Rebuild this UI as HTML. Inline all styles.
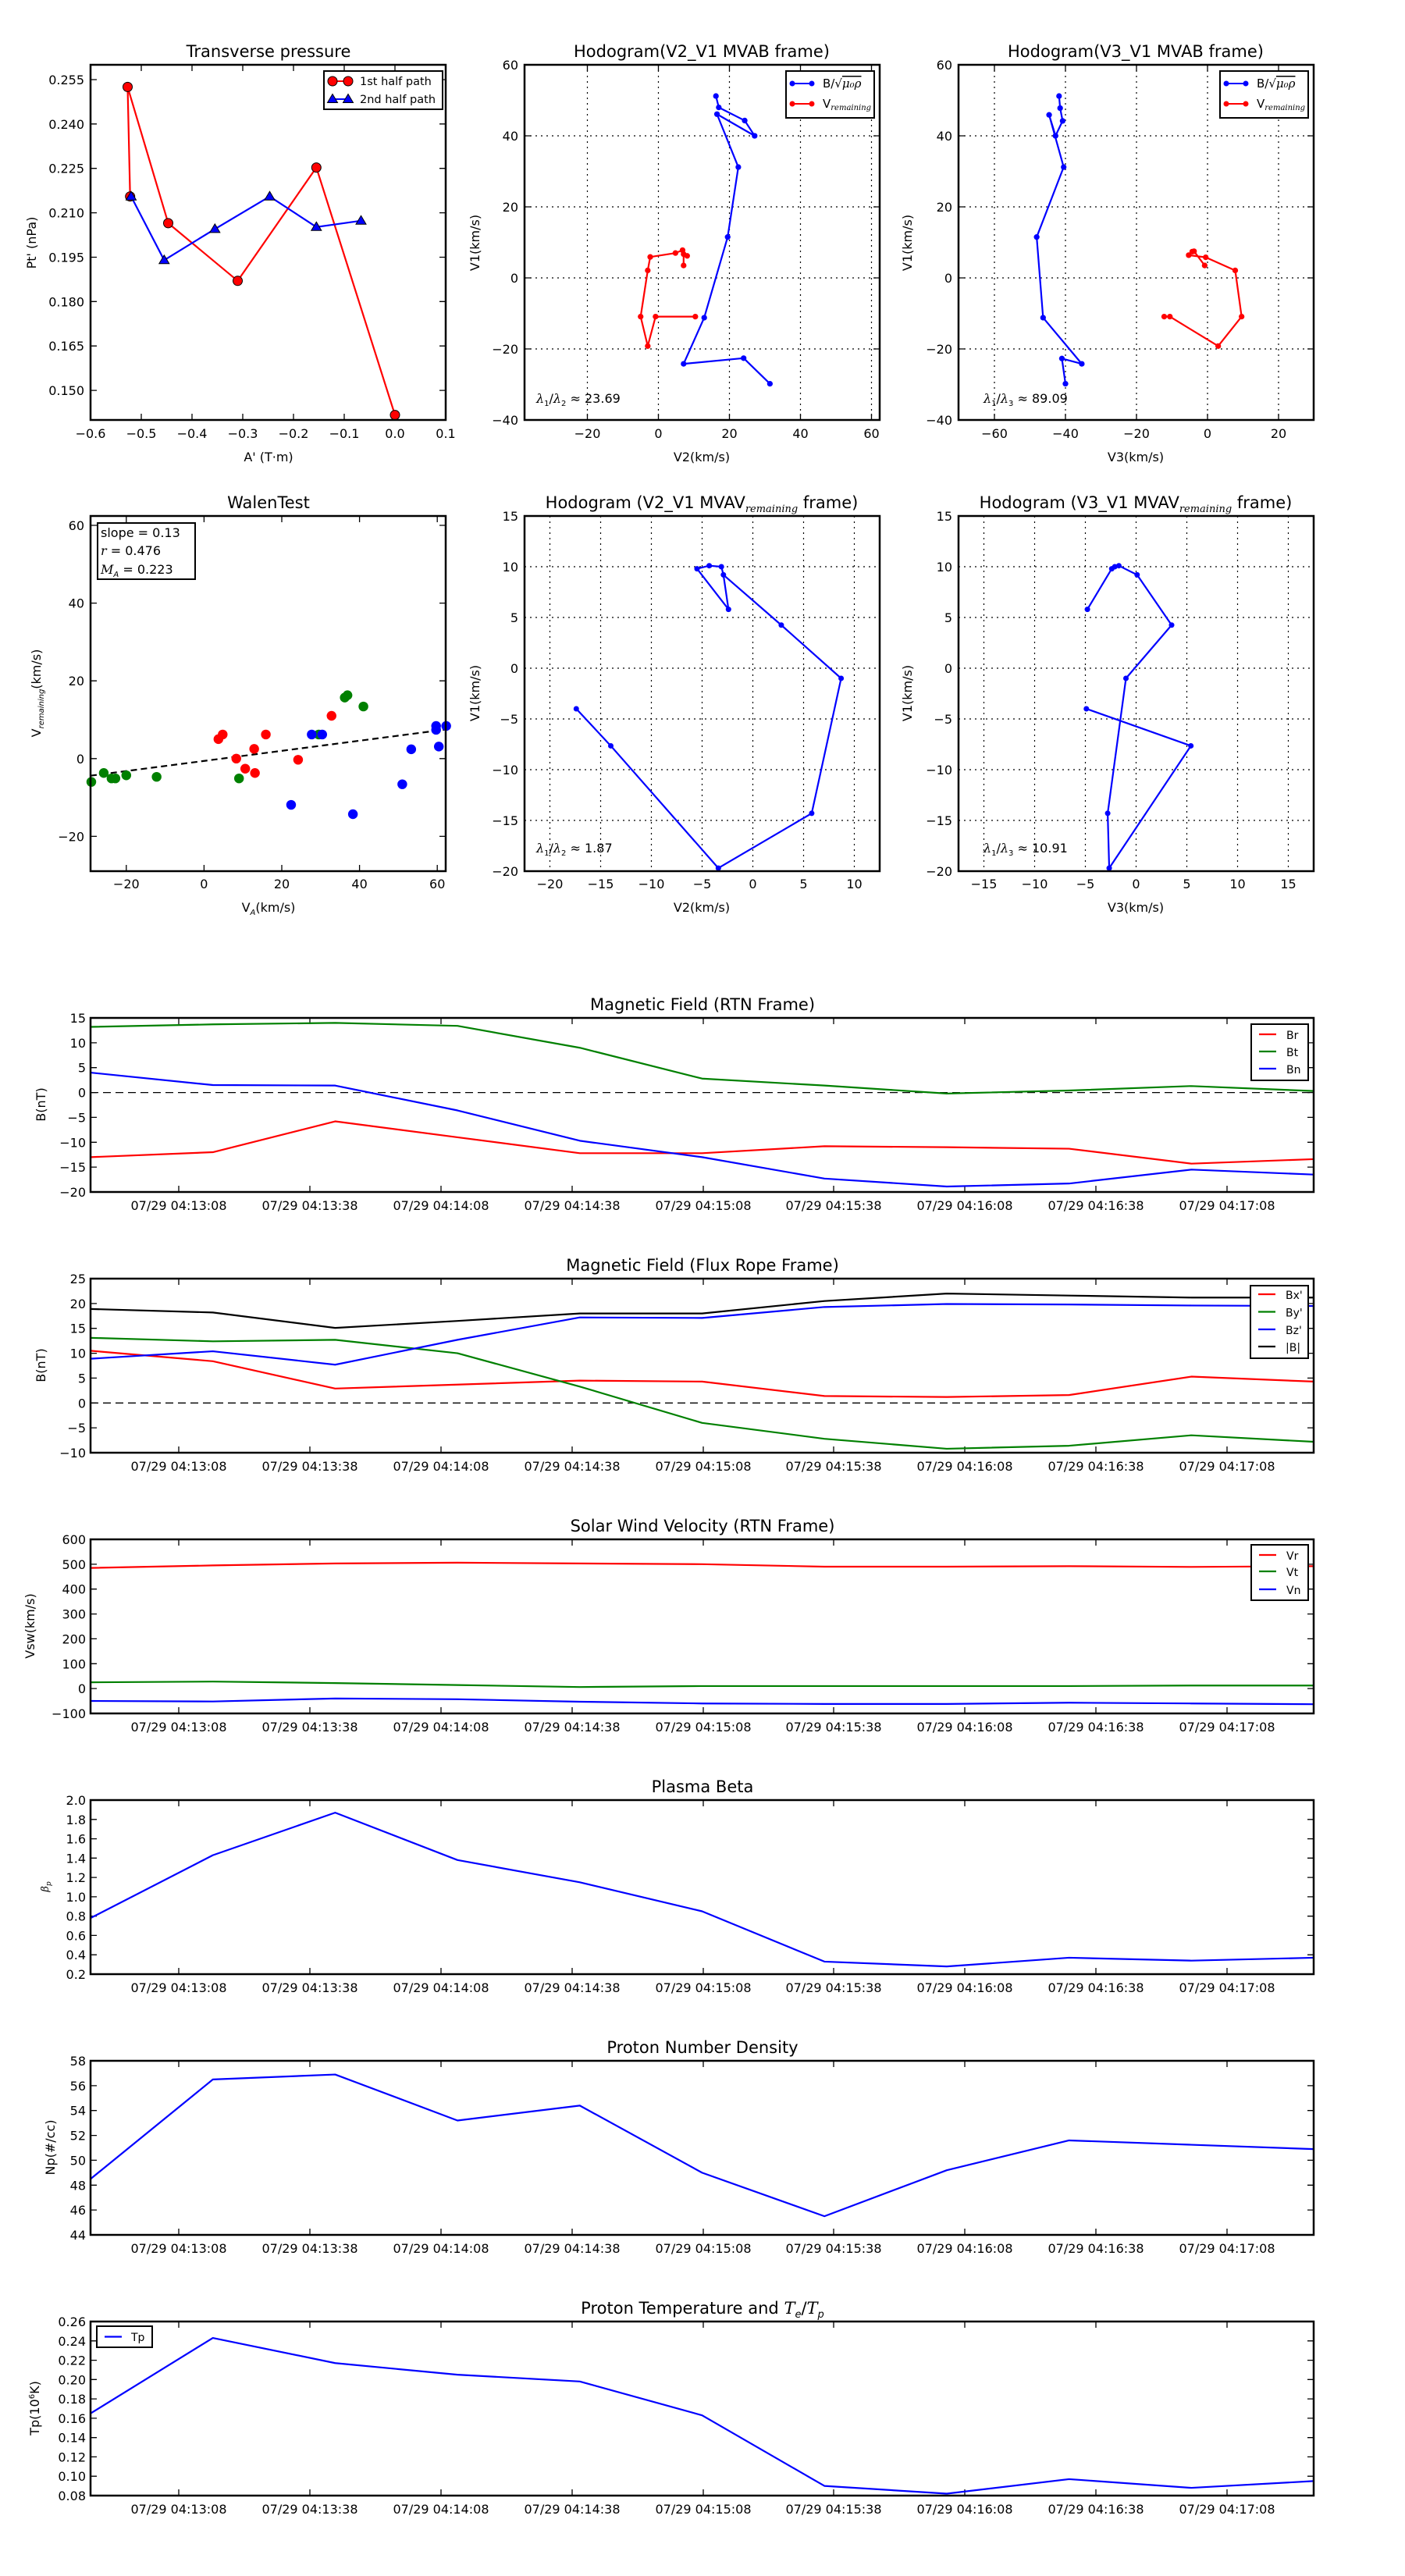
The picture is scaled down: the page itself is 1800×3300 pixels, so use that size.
<!DOCTYPE html>
<html><head><meta charset="utf-8"><style>
html,body{margin:0;padding:0;background:#fff}
svg{display:block}
text{font-family:"DejaVu Sans","Liberation Sans",sans-serif;fill:#000}
.t{font-size:16px}
.ti{font-size:21px;text-anchor:middle}
.yl{text-anchor:end}
.xl{text-anchor:middle}
.ln{fill:none;stroke-width:2.2;vector-effect:non-scaling-stroke;stroke-linejoin:round}
.ax{fill:none;stroke:#000;stroke-width:2.5}
.tk{stroke:#000;stroke-width:1.3}
.gr{stroke:#000;stroke-width:1.2;stroke-dasharray:2,5}
</style></head><body>
<svg width="1800" height="3300" viewBox="0 0 1800 3300" xmlns="http://www.w3.org/2000/svg">
<rect width="1800" height="3300" fill="#fff"/>

<!-- ============ Transverse pressure ============ -->
<text class="ti" x="344" y="73">Transverse pressure</text>
<g class="tk">
<path d="M181,538v-8M246,538v-8M311,538v-8M376,538v-8M441,538v-8M506,538v-8M181,83v8M246,83v8M311,83v8M376,83v8M441,83v8M506,83v8"/>
<path d="M116,102h8M116,158.8h8M116,215.7h8M116,272.6h8M116,329.5h8M116,386.3h8M116,443.2h8M116,500.1h8M571,102h-8M571,158.8h-8M571,215.7h-8M571,272.6h-8M571,329.5h-8M571,386.3h-8M571,443.2h-8M571,500.1h-8"/>
</g>
<polyline fill="none" stroke="#f00" stroke-width="2.2" points="166.7,251.7 163.5,111.4 215.5,285.9 304.5,359.8 405.3,214.6 506,531.6"/>
<polyline fill="none" stroke="#00f" stroke-width="2.2" points="168,251.7 210.3,333.3 275.3,293.4 345.5,251.7 405.3,290.8 462.5,282.8"/>
<g fill="#f00" stroke="#000" stroke-width="1">
<circle cx="166.7" cy="251.7" r="6"/><circle cx="163.5" cy="111.4" r="6"/><circle cx="215.5" cy="285.9" r="6"/><circle cx="304.5" cy="359.8" r="6"/><circle cx="405.3" cy="214.6" r="6"/><circle cx="506" cy="531.6" r="6"/>
</g>
<g fill="#00f" stroke="#000" stroke-width="1">
<path d="M168,245.2l6.5,11h-13z"/><path d="M210.3,326.8l6.5,11h-13z"/><path d="M275.3,286.9l6.5,11h-13z"/><path d="M345.5,245.2l6.5,11h-13z"/><path d="M405.3,284.3l6.5,11h-13z"/><path d="M462.5,276.3l6.5,11h-13z"/>
</g>
<rect x="116" y="83" width="455" height="455" class="ax"/>
<rect x="415" y="91" width="152" height="49" fill="#fff" stroke="#000" stroke-width="2"/>
<line x1="426" y1="104" x2="446" y2="104" stroke="#f00" stroke-width="2"/>
<circle cx="426" cy="104" r="6" fill="#f00" stroke="#000"/><circle cx="446" cy="104" r="6" fill="#f00" stroke="#000"/>
<text x="461" y="109" style="font-size:14.5px">1st half path</text>
<line x1="426" y1="127" x2="446" y2="127" stroke="#00f" stroke-width="2"/>
<path d="M426,120.5l6.5,11h-13z M446,120.5l6.5,11h-13z" fill="#00f" stroke="#000"/>
<text x="461" y="132" style="font-size:14.5px">2nd half path</text>
<g class="t xl">
<text x="116" y="561">−0.6</text><text x="181" y="561">−0.5</text><text x="246" y="561">−0.4</text><text x="311" y="561">−0.3</text><text x="376" y="561">−0.2</text><text x="441" y="561">−0.1</text><text x="506" y="561">0.0</text><text x="571" y="561">0.1</text>
</g>
<g class="t yl">
<text x="108" y="108">0.255</text><text x="108" y="164.8">0.240</text><text x="108" y="221.7">0.225</text><text x="108" y="278.6">0.210</text><text x="108" y="335.5">0.195</text><text x="108" y="392.3">0.180</text><text x="108" y="449.2">0.165</text><text x="108" y="506.1">0.150</text>
</g>
<text class="t xl" x="344" y="591">A' (T·m)</text>
<text class="t xl" transform="translate(46,311) rotate(-90)">Pt' (nPa)</text>

<!-- ============ Hodogram V2_V1 MVAB ============ -->
<text class="ti" x="899" y="73">Hodogram(V2_V1 MVAB frame)</text>
<g class="gr">
<path d="M752.5,83V538M843.5,83V538M934.5,83V538M1025.5,83V538M1116.5,83V538M672,174H1127M672,265H1127M672,356H1127M672,447H1127"/>
</g>
<g class="tk"><path d="M752.5,538v-8M843.5,538v-8M934.5,538v-8M1025.5,538v-8M1116.5,538v-8M752.5,83v8M843.5,83v8M934.5,83v8M1025.5,83v8M1116.5,83v8M672,174h8M672,265h8M672,356h8M672,447h8M1127,174h-8M1127,265h-8M1127,356h-8M1127,447h-8"/></g>
<g transform="translate(843.5,356) scale(4.55,-4.55)">
<polyline class="ln" stroke="#00f" points="16.2,51.2 17,48 24.3,44.3 27.1,40 16.5,46.1 22.5,31.2 19.5,11.5 12.9,-11.2 7.1,-24.2 24,-22.6 31.4,-29.8"/>
<g fill="#00f"><circle cx="16.2" cy="51.2" r="0.8"/><circle cx="17" cy="48" r="0.8"/><circle cx="24.3" cy="44.3" r="0.8"/><circle cx="27.1" cy="40" r="0.8"/><circle cx="16.5" cy="46.1" r="0.8"/><circle cx="22.5" cy="31.2" r="0.8"/><circle cx="19.5" cy="11.5" r="0.8"/><circle cx="12.9" cy="-11.2" r="0.8"/><circle cx="7.1" cy="-24.2" r="0.8"/><circle cx="24" cy="-22.6" r="0.8"/><circle cx="31.4" cy="-29.8" r="0.8"/></g>
<polyline class="ln" stroke="#f00" points="10.4,-10.9 -0.8,-10.9 -3,-19.2 -5,-10.9 -3,2.1 -2.3,5.9 4.8,7 6.8,7.8 8.1,6.2 7.1,6.7 7.1,3.5"/>
<g fill="#f00"><circle cx="10.4" cy="-10.9" r="0.8"/><circle cx="-0.8" cy="-10.9" r="0.8"/><circle cx="-3" cy="-19.2" r="0.8"/><circle cx="-5" cy="-10.9" r="0.8"/><circle cx="-3" cy="2.1" r="0.8"/><circle cx="-2.3" cy="5.9" r="0.8"/><circle cx="4.8" cy="7" r="0.8"/><circle cx="6.8" cy="7.8" r="0.8"/><circle cx="8.1" cy="6.2" r="0.8"/><circle cx="7.1" cy="6.7" r="0.8"/><circle cx="7.1" cy="3.5" r="0.8"/></g>
</g>
<rect x="672" y="83" width="455" height="455" class="ax"/>
<rect x="1007" y="91" width="113" height="60" fill="#fff" stroke="#000" stroke-width="2"/>
<line x1="1015" y1="107" x2="1040" y2="107" stroke="#00f" stroke-width="2"/><circle cx="1015" cy="107" r="3.5" fill="#00f"/><circle cx="1040" cy="107" r="3.5" fill="#00f"/>
<text x="1054" y="112" style="font-size:15px">B/√<tspan font-style="italic" font-family="DejaVu Serif" text-decoration="overline">μ₀ρ</tspan></text>
<line x1="1015" y1="133" x2="1040" y2="133" stroke="#f00" stroke-width="2"/><circle cx="1015" cy="133" r="3.5" fill="#f00"/><circle cx="1040" cy="133" r="3.5" fill="#f00"/>
<text x="1054" y="138" style="font-size:15px">V<tspan font-style="italic" font-family="DejaVu Serif" style="font-size:10px" dy="3">remaining</tspan></text>
<text x="687" y="516" class="t"><tspan font-style="italic" font-family="DejaVu Serif">λ</tspan><tspan style="font-size:10px" dy="4">1</tspan><tspan dy="-4">/</tspan><tspan font-style="italic" font-family="DejaVu Serif">λ</tspan><tspan style="font-size:10px" dy="4">2</tspan><tspan dy="-4"> ≈ 23.69</tspan></text>
<g class="t xl"><text x="752.5" y="561">−20</text><text x="843.5" y="561">0</text><text x="934.5" y="561">20</text><text x="1025.5" y="561">40</text><text x="1116.5" y="561">60</text></g>
<g class="t yl"><text x="664" y="89">60</text><text x="664" y="180">40</text><text x="664" y="271">20</text><text x="664" y="362">0</text><text x="664" y="453">−20</text><text x="664" y="544">−40</text></g>
<text class="t xl" x="899" y="591">V2(km/s)</text>
<text class="t xl" transform="translate(614,311) rotate(-90)">V1(km/s)</text>

<!-- ============ Hodogram V3_V1 MVAB ============ -->
<text class="ti" x="1455" y="73">Hodogram(V3_V1 MVAB frame)</text>
<g class="gr">
<path d="M1274,83V538M1365,83V538M1456,83V538M1547,83V538M1638,83V538M1228,174H1683M1228,265H1683M1228,356H1683M1228,447H1683"/>
</g>
<g class="tk"><path d="M1274,538v-8M1365,538v-8M1456,538v-8M1547,538v-8M1638,538v-8M1274,83v8M1365,83v8M1456,83v8M1547,83v8M1638,83v8M1228,174h8M1228,265h8M1228,356h8M1228,447h8M1683,174h-8M1683,265h-8M1683,356h-8M1683,447h-8"/></g>
<g transform="translate(1547,356) scale(4.55,-4.55)">
<polyline class="ln" stroke="#00f" points="-41.8,51.2 -41.5,47.8 -40.8,44.2 -42.8,40 -44.6,45.9 -40.5,31.2 -48.1,11.5 -46.3,-11.2 -35.4,-24.2 -41,-22.7 -40,-29.8"/>
<g fill="#00f"><circle cx="-41.8" cy="51.2" r="0.8"/><circle cx="-41.5" cy="47.8" r="0.8"/><circle cx="-40.8" cy="44.2" r="0.8"/><circle cx="-42.8" cy="40" r="0.8"/><circle cx="-44.6" cy="45.9" r="0.8"/><circle cx="-40.5" cy="31.2" r="0.8"/><circle cx="-48.1" cy="11.5" r="0.8"/><circle cx="-46.3" cy="-11.2" r="0.8"/><circle cx="-35.4" cy="-24.2" r="0.8"/><circle cx="-41" cy="-22.7" r="0.8"/><circle cx="-40" cy="-29.8" r="0.8"/></g>
<polyline class="ln" stroke="#f00" points="-12.2,-10.9 -10.6,-10.9 3,-19.2 9.6,-10.9 7.8,2.1 -0.5,5.8 -5.3,6.4 -4.3,7.4 -3.8,7.5 -0.8,3.5"/>
<g fill="#f00"><circle cx="-12.2" cy="-10.9" r="0.8"/><circle cx="-10.6" cy="-10.9" r="0.8"/><circle cx="3" cy="-19.2" r="0.8"/><circle cx="9.6" cy="-10.9" r="0.8"/><circle cx="7.8" cy="2.1" r="0.8"/><circle cx="-0.5" cy="5.8" r="0.8"/><circle cx="-5.3" cy="6.4" r="0.8"/><circle cx="-4.3" cy="7.4" r="0.8"/><circle cx="-3.8" cy="7.5" r="0.8"/><circle cx="-0.8" cy="3.5" r="0.8"/></g>
</g>
<rect x="1228" y="83" width="455" height="455" class="ax"/>
<rect x="1563" y="91" width="113" height="60" fill="#fff" stroke="#000" stroke-width="2"/>
<line x1="1571" y1="107" x2="1596" y2="107" stroke="#00f" stroke-width="2"/><circle cx="1571" cy="107" r="3.5" fill="#00f"/><circle cx="1596" cy="107" r="3.5" fill="#00f"/>
<text x="1610" y="112" style="font-size:15px">B/√<tspan font-style="italic" font-family="DejaVu Serif" text-decoration="overline">μ₀ρ</tspan></text>
<line x1="1571" y1="133" x2="1596" y2="133" stroke="#f00" stroke-width="2"/><circle cx="1571" cy="133" r="3.5" fill="#f00"/><circle cx="1596" cy="133" r="3.5" fill="#f00"/>
<text x="1610" y="138" style="font-size:15px">V<tspan font-style="italic" font-family="DejaVu Serif" style="font-size:10px" dy="3">remaining</tspan></text>
<text x="1260" y="516" class="t"><tspan font-style="italic" font-family="DejaVu Serif">λ</tspan><tspan style="font-size:10px" dy="4">1</tspan><tspan dy="-4">/</tspan><tspan font-style="italic" font-family="DejaVu Serif">λ</tspan><tspan style="font-size:10px" dy="4">3</tspan><tspan dy="-4"> ≈ 89.09</tspan></text>
<g class="t xl"><text x="1274" y="561">−60</text><text x="1365" y="561">−40</text><text x="1456" y="561">−20</text><text x="1547" y="561">0</text><text x="1638" y="561">20</text></g>
<g class="t yl"><text x="1220" y="89">60</text><text x="1220" y="180">40</text><text x="1220" y="271">20</text><text x="1220" y="362">0</text><text x="1220" y="453">−20</text><text x="1220" y="544">−40</text></g>
<text class="t xl" x="1455" y="591">V3(km/s)</text>
<text class="t xl" transform="translate(1168,311) rotate(-90)">V1(km/s)</text>

<!-- ============ Walen Test ============ -->
<text class="ti" x="344" y="651">WalenTest</text>
<g class="tk"><path d="M161.8,1116v-8M261.4,1116v-8M361,1116v-8M460.6,1116v-8M560.2,1116v-8M161.8,661v8M261.4,661v8M361,661v8M460.6,661v8M560.2,661v8M116,673h8M116,772.6h8M116,872.2h8M116,971.8h8M116,1071.4h8M571,673h-8M571,772.6h-8M571,872.2h-8M571,971.8h-8M571,1071.4h-8"/></g>
<g transform="translate(261.4,971.8) scale(4.98,-4.98)">
<line x1="-29.2" y1="-4.4" x2="62.3" y2="7.5" stroke="#000" stroke-width="2.2" stroke-dasharray="8,5" vector-effect="non-scaling-stroke"/>
<g fill="#008000"><circle cx="-29" cy="-6" r="1.25"/><circle cx="-25.8" cy="-3.7" r="1.25"/><circle cx="-23.8" cy="-5.1" r="1.25"/><circle cx="-22.8" cy="-5.1" r="1.25"/><circle cx="-20" cy="-4.3" r="1.25"/><circle cx="-12.2" cy="-4.7" r="1.25"/><circle cx="9" cy="-5.1" r="1.25"/><circle cx="36.2" cy="15.7" r="1.25"/><circle cx="36.9" cy="16.3" r="1.25"/><circle cx="41" cy="13.4" r="1.25"/><circle cx="29.5" cy="6.2" r="1.25"/></g>
<g fill="#f00"><circle cx="3.7" cy="5" r="1.25"/><circle cx="4.8" cy="6.2" r="1.25"/><circle cx="8.3" cy="0" r="1.25"/><circle cx="10.6" cy="-2.6" r="1.25"/><circle cx="12.9" cy="2.5" r="1.25"/><circle cx="13.1" cy="-3.7" r="1.25"/><circle cx="15.9" cy="6.2" r="1.25"/><circle cx="24.2" cy="-0.3" r="1.25"/><circle cx="32.8" cy="11" r="1.25"/></g>
<g fill="#00f"><circle cx="22.4" cy="-11.9" r="1.25"/><circle cx="27.7" cy="6.2" r="1.25"/><circle cx="30.4" cy="6.2" r="1.25"/><circle cx="38.3" cy="-14.3" r="1.25"/><circle cx="51" cy="-6.6" r="1.25"/><circle cx="53.3" cy="2.4" r="1.25"/><circle cx="59.7" cy="8.4" r="1.25"/><circle cx="59.7" cy="7.4" r="1.25"/><circle cx="60.4" cy="3.1" r="1.25"/><circle cx="62.3" cy="8.4" r="1.25"/></g>
</g>
<rect x="116" y="661" width="455" height="455" class="ax"/>
<rect x="125" y="670" width="125" height="72" fill="#fff" stroke="#000" stroke-width="2"/>
<text class="t" x="129" y="688">slope = 0.13</text>
<text class="t" x="129" y="711"><tspan font-style="italic" font-family="DejaVu Serif">r</tspan> = 0.476</text>
<text class="t" x="129" y="735"><tspan font-style="italic" font-family="DejaVu Serif">M</tspan><tspan style="font-size:10px" dy="4" font-style="italic">A</tspan><tspan dy="-4"> = 0.223</tspan></text>
<g class="t xl"><text x="161.8" y="1138">−20</text><text x="261.4" y="1138">0</text><text x="361" y="1138">20</text><text x="460.6" y="1138">40</text><text x="560.2" y="1138">60</text></g>
<g class="t yl"><text x="108" y="679">60</text><text x="108" y="778.6">40</text><text x="108" y="878.2">20</text><text x="108" y="977.8">0</text><text x="108" y="1077.4">−20</text></g>
<text class="t xl" x="344" y="1168">V<tspan style="font-size:10px" dy="4" font-style="italic">A</tspan><tspan dy="-4">(km/s)</tspan></text>
<text class="t xl" transform="translate(52,888) rotate(-90)">V<tspan style="font-size:10px" dy="4" font-style="italic">remaining</tspan><tspan dy="-4">(km/s)</tspan></text>

<!-- ============ Hodogram V2_V1 MVAV ============ -->
<text class="ti" x="899" y="651">Hodogram (V2_V1 MVAV<tspan style="font-size:13px" dy="5" font-style="italic" font-family="DejaVu Serif">remaining</tspan><tspan dy="-5"> frame)</tspan></text>
<g class="gr"><path d="M704.5,661V1116M769.5,661V1116M834.5,661V1116M899.5,661V1116M964.5,661V1116M1029.5,661V1116M1094.5,661V1116M672,726H1127M672,791H1127M672,856H1127M672,921H1127M672,986H1127M672,1051H1127"/></g>
<g transform="translate(964.5,856) scale(13,-13)">
<polyline class="ln" stroke="#00f" points="-17.4,-4 -14,-7.65 -3.4,-19.7 5.8,-14.3 8.7,-1 2.8,4.25 -2.9,9.2 -3.1,10 -4.3,10.1 -5.5,9.8 -2.4,5.8 -2.9,9.2"/>
<g fill="#00f"><circle cx="-17.4" cy="-4" r="0.27"/><circle cx="-14" cy="-7.65" r="0.27"/><circle cx="-3.4" cy="-19.7" r="0.27"/><circle cx="5.8" cy="-14.3" r="0.27"/><circle cx="8.7" cy="-1" r="0.27"/><circle cx="2.8" cy="4.25" r="0.27"/><circle cx="-2.9" cy="9.2" r="0.27"/><circle cx="-3.1" cy="10" r="0.27"/><circle cx="-4.3" cy="10.1" r="0.27"/><circle cx="-5.5" cy="9.8" r="0.27"/><circle cx="-2.4" cy="5.8" r="0.27"/></g>
</g>
<rect x="672" y="661" width="455" height="455" class="ax"/>
<text x="687" y="1092" class="t"><tspan font-style="italic" font-family="DejaVu Serif">λ</tspan><tspan style="font-size:10px" dy="4">1</tspan><tspan dy="-4">/</tspan><tspan font-style="italic" font-family="DejaVu Serif">λ</tspan><tspan style="font-size:10px" dy="4">2</tspan><tspan dy="-4"> ≈ 1.87</tspan></text>
<g class="t xl"><text x="704.5" y="1138">−20</text><text x="769.5" y="1138">−15</text><text x="834.5" y="1138">−10</text><text x="899.5" y="1138">−5</text><text x="964.5" y="1138">0</text><text x="1029.5" y="1138">5</text><text x="1094.5" y="1138">10</text></g>
<g class="t yl"><text x="664" y="667">15</text><text x="664" y="732">10</text><text x="664" y="797">5</text><text x="664" y="862">0</text><text x="664" y="927">−5</text><text x="664" y="992">−10</text><text x="664" y="1057">−15</text><text x="664" y="1122">−20</text></g>
<text class="t xl" x="899" y="1168">V2(km/s)</text>
<text class="t xl" transform="translate(614,888) rotate(-90)">V1(km/s)</text>

<!-- ============ Hodogram V3_V1 MVAV ============ -->
<text class="ti" x="1455" y="651">Hodogram (V3_V1 MVAV<tspan style="font-size:13px" dy="5" font-style="italic" font-family="DejaVu Serif">remaining</tspan><tspan dy="-5"> frame)</tspan></text>
<g class="gr"><path d="M1260.5,661V1116M1325.5,661V1116M1390.5,661V1116M1455.5,661V1116M1520.5,661V1116M1585.5,661V1116M1650.5,661V1116M1228,726H1683M1228,791H1683M1228,856H1683M1228,921H1683M1228,986H1683M1228,1051H1683"/></g>
<g transform="translate(1455.5,856) scale(13,-13)">
<polyline class="ln" stroke="#00f" points="-4.9,-4 5.4,-7.65 -2.65,-19.7 -2.8,-14.3 -1,-1 3.5,4.25 0.1,9.2 -1.7,10.1 -2.1,10 -2.4,9.8 -4.8,5.8"/>
<g fill="#00f"><circle cx="-4.9" cy="-4" r="0.27"/><circle cx="5.4" cy="-7.65" r="0.27"/><circle cx="-2.65" cy="-19.7" r="0.27"/><circle cx="-2.8" cy="-14.3" r="0.27"/><circle cx="-1" cy="-1" r="0.27"/><circle cx="3.5" cy="4.25" r="0.27"/><circle cx="0.1" cy="9.2" r="0.27"/><circle cx="-1.7" cy="10.1" r="0.27"/><circle cx="-2.1" cy="10" r="0.27"/><circle cx="-2.4" cy="9.8" r="0.27"/><circle cx="-4.8" cy="5.8" r="0.27"/></g>
</g>
<rect x="1228" y="661" width="455" height="455" class="ax"/>
<text x="1260" y="1092" class="t"><tspan font-style="italic" font-family="DejaVu Serif">λ</tspan><tspan style="font-size:10px" dy="4">1</tspan><tspan dy="-4">/</tspan><tspan font-style="italic" font-family="DejaVu Serif">λ</tspan><tspan style="font-size:10px" dy="4">3</tspan><tspan dy="-4"> ≈ 10.91</tspan></text>
<g class="t xl"><text x="1260.5" y="1138">−15</text><text x="1325.5" y="1138">−10</text><text x="1390.5" y="1138">−5</text><text x="1455.5" y="1138">0</text><text x="1520.5" y="1138">5</text><text x="1585.5" y="1138">10</text><text x="1650.5" y="1138">15</text></g>
<g class="t yl"><text x="1220" y="667">15</text><text x="1220" y="732">10</text><text x="1220" y="797">5</text><text x="1220" y="862">0</text><text x="1220" y="927">−5</text><text x="1220" y="992">−10</text><text x="1220" y="1057">−15</text><text x="1220" y="1122">−20</text></g>
<text class="t xl" x="1455" y="1168">V3(km/s)</text>
<text class="t xl" transform="translate(1168,888) rotate(-90)">V1(km/s)</text>

<!-- ============ Time series common x ticks (defs) ============ -->
<defs>
<path id="xt" d="M229,223v-8M397,223v-8M565,223v-8M733,223v-8M901,223v-8M1068,223v-8M1236,223v-8M1404,223v-8M1572,223v-8M229,0v8M397,0v8M565,0v8M733,0v8M901,0v8M1068,0v8M1236,0v8M1404,0v8M1572,0v8" stroke="#000" stroke-width="1.3"/>
</defs>

<!-- ===== Plot 1: Magnetic Field RTN ===== -->
<text class="ti" x="900" y="1294">Magnetic Field (RTN Frame)</text>
<use href="#xt" transform="translate(0,1304)"/>
<g class="tk"><path d="M116,1335.9h8M116,1367.7h8M116,1399.6h8M116,1431.4h8M116,1463.3h8M116,1495.1h8M1683,1335.9h-8M1683,1367.7h-8M1683,1399.6h-8M1683,1431.4h-8M1683,1463.3h-8M1683,1495.1h-8"/></g>
<line x1="116" y1="1399.6" x2="1683" y2="1399.6" stroke="#000" stroke-width="1.3" stroke-dasharray="10,6"/>
<g transform="translate(116,1399.57) scale(156.7,6.371)">
<polyline class="ln" stroke="#f00" points="0,13 1,12 2,5.8 3,9 4,12.2 5,12.2 6,10.8 7,11 8,11.3 9,14.3 10,13.4"/>
<polyline class="ln" stroke="#008000" points="0,-13.2 1,-13.7 2,-14 3,-13.4 4,-9 5,-2.8 6,-1.4 7,0.2 8,-0.4 9,-1.3 10,-0.3"/>
<polyline class="ln" stroke="#00f" points="0,-4 1,-1.5 2,-1.4 3,3.6 4,9.7 5,13 6,17.3 7,18.9 8,18.3 9,15.5 10,16.5"/>
</g>
<rect x="116" y="1304" width="1567" height="223" class="ax"/>
<rect x="1603" y="1312" width="73" height="72" fill="#fff" stroke="#000" stroke-width="2"/>
<line x1="1613" y1="1325" x2="1635" y2="1325" stroke="#f00" stroke-width="2.2"/><text class="t" x="1648" y="1331" style="font-size:14px">Br</text>
<line x1="1613" y1="1347" x2="1635" y2="1347" stroke="#008000" stroke-width="2.2"/><text class="t" x="1648" y="1353" style="font-size:14px">Bt</text>
<line x1="1613" y1="1369" x2="1635" y2="1369" stroke="#00f" stroke-width="2.2"/><text class="t" x="1648" y="1375" style="font-size:14px">Bn</text>
<g class="t yl"><text x="110" y="1310">15</text><text x="110" y="1341.9">10</text><text x="110" y="1373.7">5</text><text x="110" y="1405.6">0</text><text x="110" y="1437.4">−5</text><text x="110" y="1469.3">−10</text><text x="110" y="1501.1">−15</text><text x="110" y="1533">−20</text></g>
<g class="t xl"><text x="229" y="1550">07/29 04:13:08</text><text x="397" y="1550">07/29 04:13:38</text><text x="565" y="1550">07/29 04:14:08</text><text x="733" y="1550">07/29 04:14:38</text><text x="901" y="1550">07/29 04:15:08</text><text x="1068" y="1550">07/29 04:15:38</text><text x="1236" y="1550">07/29 04:16:08</text><text x="1404" y="1550">07/29 04:16:38</text><text x="1572" y="1550">07/29 04:17:08</text></g>
<text class="t xl" transform="translate(58,1415) rotate(-90)">B(nT)</text>

<!-- ===== Plot 2: Flux rope ===== -->
<text class="ti" x="900" y="1628">Magnetic Field (Flux Rope Frame)</text>
<use href="#xt" transform="translate(0,1638)"/>
<g class="tk"><path d="M116,1669.9h8M116,1701.7h8M116,1733.6h8M116,1765.4h8M116,1797.3h8M116,1829.1h8M1683,1669.9h-8M1683,1701.7h-8M1683,1733.6h-8M1683,1765.4h-8M1683,1797.3h-8M1683,1829.1h-8"/></g>
<line x1="116" y1="1797.3" x2="1683" y2="1797.3" stroke="#000" stroke-width="1.3" stroke-dasharray="10,6"/>
<g transform="translate(116,1797.3) scale(156.7,6.371)">
<polyline class="ln" stroke="#f00" points="0,-10.5 1,-8.4 2,-2.9 3,-3.7 4,-4.5 5,-4.3 6,-1.4 7,-1.2 8,-1.6 9,-5.3 10,-4.3"/>
<polyline class="ln" stroke="#008000" points="0,-13.1 1,-12.4 2,-12.7 3,-10 4,-3.3 5,4 6,7.2 7,9.2 8,8.6 9,6.5 10,7.8"/>
<polyline class="ln" stroke="#00f" points="0,-8.9 1,-10.4 2,-7.7 3,-12.7 4,-17.2 5,-17.1 6,-19.3 7,-19.9 8,-19.8 9,-19.6 10,-19.5"/>
<polyline class="ln" stroke="#000" points="0,-18.9 1,-18.2 2,-15.1 3,-16.5 4,-18 5,-18 6,-20.5 7,-22 8,-21.6 9,-21.2 10,-21.2"/>
</g>
<rect x="116" y="1638" width="1567" height="223" class="ax"/>
<rect x="1602" y="1647" width="74" height="93" fill="#fff" stroke="#000" stroke-width="2"/>
<line x1="1612" y1="1658" x2="1634" y2="1658" stroke="#f00" stroke-width="2.2"/><text class="t" x="1647" y="1664" style="font-size:14px">Bx'</text>
<line x1="1612" y1="1680.5" x2="1634" y2="1680.5" stroke="#008000" stroke-width="2.2"/><text class="t" x="1647" y="1686.5" style="font-size:14px">By'</text>
<line x1="1612" y1="1703" x2="1634" y2="1703" stroke="#00f" stroke-width="2.2"/><text class="t" x="1647" y="1709" style="font-size:14px">Bz'</text>
<line x1="1612" y1="1725" x2="1634" y2="1725" stroke="#000" stroke-width="2.2"/><text class="t" x="1647" y="1731" style="font-size:14px">|B|</text>
<g class="t yl"><text x="110" y="1644">25</text><text x="110" y="1675.9">20</text><text x="110" y="1707.7">15</text><text x="110" y="1739.6">10</text><text x="110" y="1771.4">5</text><text x="110" y="1803.3">0</text><text x="110" y="1835.1">−5</text><text x="110" y="1867">−10</text></g>
<g class="t xl"><text x="229" y="1884">07/29 04:13:08</text><text x="397" y="1884">07/29 04:13:38</text><text x="565" y="1884">07/29 04:14:08</text><text x="733" y="1884">07/29 04:14:38</text><text x="901" y="1884">07/29 04:15:08</text><text x="1068" y="1884">07/29 04:15:38</text><text x="1236" y="1884">07/29 04:16:08</text><text x="1404" y="1884">07/29 04:16:38</text><text x="1572" y="1884">07/29 04:17:08</text></g>
<text class="t xl" transform="translate(58,1749) rotate(-90)">B(nT)</text>

<!-- ===== Plot 3: Velocity ===== -->
<text class="ti" x="900" y="1962">Solar Wind Velocity (RTN Frame)</text>
<use href="#xt" transform="translate(0,1972)"/>
<g class="tk"><path d="M116,2003.9h8M116,2035.7h8M116,2067.6h8M116,2099.4h8M116,2131.3h8M116,2163.1h8M1683,2003.9h-8M1683,2035.7h-8M1683,2067.6h-8M1683,2099.4h-8M1683,2131.3h-8M1683,2163.1h-8"/></g>
<g transform="translate(116,2163.1) scale(156.7,0.31857)">
<polyline class="ln" stroke="#f00" points="0,-485 1,-495 2,-503 3,-506 4,-503 5,-500 6,-490 7,-490 8,-492 9,-489 10,-492"/>
<polyline class="ln" stroke="#008000" points="0,-25 1,-28 2,-22 3,-14 4,-6 5,-10 6,-10 7,-10 8,-10 9,-12 10,-12"/>
<polyline class="ln" stroke="#00f" points="0,50 1,52 2,40 3,43 4,53 5,60 6,62 7,62 8,57 9,60 10,63"/>
</g>
<rect x="116" y="1972" width="1567" height="223" class="ax"/>
<rect x="1603" y="1979" width="73" height="71" fill="#fff" stroke="#000" stroke-width="2"/>
<line x1="1613" y1="1992" x2="1635" y2="1992" stroke="#f00" stroke-width="2.2"/><text class="t" x="1648" y="1998" style="font-size:14px">Vr</text>
<line x1="1613" y1="2013" x2="1635" y2="2013" stroke="#008000" stroke-width="2.2"/><text class="t" x="1648" y="2019" style="font-size:14px">Vt</text>
<line x1="1613" y1="2036" x2="1635" y2="2036" stroke="#00f" stroke-width="2.2"/><text class="t" x="1648" y="2042" style="font-size:14px">Vn</text>
<g class="t yl"><text x="110" y="1978">600</text><text x="110" y="2009.9">500</text><text x="110" y="2041.7">400</text><text x="110" y="2073.6">300</text><text x="110" y="2105.4">200</text><text x="110" y="2137.3">100</text><text x="110" y="2169.1">0</text><text x="110" y="2201">−100</text></g>
<g class="t xl"><text x="229" y="2218">07/29 04:13:08</text><text x="397" y="2218">07/29 04:13:38</text><text x="565" y="2218">07/29 04:14:08</text><text x="733" y="2218">07/29 04:14:38</text><text x="901" y="2218">07/29 04:15:08</text><text x="1068" y="2218">07/29 04:15:38</text><text x="1236" y="2218">07/29 04:16:08</text><text x="1404" y="2218">07/29 04:16:38</text><text x="1572" y="2218">07/29 04:17:08</text></g>
<text class="t xl" transform="translate(44,2083) rotate(-90)">Vsw(km/s)</text>

<!-- ===== Plot 4: Plasma beta ===== -->
<text class="ti" x="900" y="2296">Plasma Beta</text>
<use href="#xt" transform="translate(0,2306)"/>
<g class="tk"><path d="M116,2330.8h8M116,2355.6h8M116,2380.3h8M116,2405.1h8M116,2429.9h8M116,2454.7h8M116,2479.4h8M116,2504.2h8M1683,2330.8h-8M1683,2355.6h-8M1683,2380.3h-8M1683,2405.1h-8M1683,2429.9h-8M1683,2454.7h-8M1683,2479.4h-8M1683,2504.2h-8"/></g>
<g transform="translate(116,2553.8) scale(156.7,123.89)">
<polyline class="ln" stroke="#00f" points="0,-0.78 1,-1.43 2,-1.87 3,-1.38 4,-1.15 5,-0.85 6,-0.33 7,-0.28 8,-0.37 9,-0.34 10,-0.37"/>
</g>
<rect x="116" y="2306" width="1567" height="223" class="ax"/>
<g class="t yl"><text x="110" y="2312">2.0</text><text x="110" y="2336.8">1.8</text><text x="110" y="2361.6">1.6</text><text x="110" y="2386.3">1.4</text><text x="110" y="2411.1">1.2</text><text x="110" y="2435.9">1.0</text><text x="110" y="2460.7">0.8</text><text x="110" y="2485.4">0.6</text><text x="110" y="2510.2">0.4</text><text x="110" y="2535">0.2</text></g>
<g class="t xl"><text x="229" y="2552">07/29 04:13:08</text><text x="397" y="2552">07/29 04:13:38</text><text x="565" y="2552">07/29 04:14:08</text><text x="733" y="2552">07/29 04:14:38</text><text x="901" y="2552">07/29 04:15:08</text><text x="1068" y="2552">07/29 04:15:38</text><text x="1236" y="2552">07/29 04:16:08</text><text x="1404" y="2552">07/29 04:16:38</text><text x="1572" y="2552">07/29 04:17:08</text></g>
<text class="xl" transform="translate(62,2417) rotate(-90)" style="font-size:13px;font-family:'DejaVu Serif',serif;font-style:italic">β<tspan style="font-size:9px" dy="3">p</tspan></text>

<!-- ===== Plot 5: Np ===== -->
<text class="ti" x="900" y="2630">Proton Number Density</text>
<use href="#xt" transform="translate(0,2640)"/>
<g class="tk"><path d="M116,2671.9h8M116,2703.7h8M116,2735.6h8M116,2767.4h8M116,2799.3h8M116,2831.1h8M1683,2671.9h-8M1683,2703.7h-8M1683,2735.6h-8M1683,2767.4h-8M1683,2799.3h-8M1683,2831.1h-8"/></g>
<g transform="translate(116,3563.9) scale(156.7,15.929)">
<polyline class="ln" stroke="#00f" points="0,-48.5 1,-56.5 2,-56.9 3,-53.2 4,-54.4 5,-49 6,-45.5 7,-49.2 8,-51.6 9,-51.25 10,-50.9"/>
</g>
<rect x="116" y="2640" width="1567" height="223" class="ax"/>
<g class="t yl"><text x="110" y="2646">58</text><text x="110" y="2677.9">56</text><text x="110" y="2709.7">54</text><text x="110" y="2741.6">52</text><text x="110" y="2773.4">50</text><text x="110" y="2805.3">48</text><text x="110" y="2837.1">46</text><text x="110" y="2869">44</text></g>
<g class="t xl"><text x="229" y="2886">07/29 04:13:08</text><text x="397" y="2886">07/29 04:13:38</text><text x="565" y="2886">07/29 04:14:08</text><text x="733" y="2886">07/29 04:14:38</text><text x="901" y="2886">07/29 04:15:08</text><text x="1068" y="2886">07/29 04:15:38</text><text x="1236" y="2886">07/29 04:16:08</text><text x="1404" y="2886">07/29 04:16:38</text><text x="1572" y="2886">07/29 04:17:08</text></g>
<text class="t xl" transform="translate(70,2751) rotate(-90)">Np(#/cc)</text>

<!-- ===== Plot 6: Tp ===== -->
<text class="ti" x="900" y="2964">Proton Temperature and <tspan font-style="italic" font-family="DejaVu Serif">T</tspan><tspan style="font-size:13px" dy="5" font-style="italic">e</tspan><tspan dy="-5">/</tspan><tspan font-style="italic" font-family="DejaVu Serif">T</tspan><tspan style="font-size:13px" dy="5" font-style="italic">p</tspan></text>
<use href="#xt" transform="translate(0,2974)"/>
<g class="tk"><path d="M116,2998.8h8M116,3023.6h8M116,3048.3h8M116,3073.1h8M116,3097.9h8M116,3122.7h8M116,3147.4h8M116,3172.2h8M1683,2998.8h-8M1683,3023.6h-8M1683,3048.3h-8M1683,3073.1h-8M1683,3097.9h-8M1683,3122.7h-8M1683,3147.4h-8M1683,3172.2h-8"/></g>
<g transform="translate(116,3296.1) scale(156.7,1238.9)">
<polyline class="ln" stroke="#00f" points="0,-0.165 1,-0.243 2,-0.217 3,-0.205 4,-0.198 5,-0.163 6,-0.09 7,-0.082 8,-0.097 9,-0.088 10,-0.095"/>
</g>
<rect x="116" y="2974" width="1567" height="223" class="ax"/>
<rect x="124" y="2980" width="71" height="27" fill="#fff" stroke="#000" stroke-width="2"/>
<line x1="134" y1="2993.5" x2="156" y2="2993.5" stroke="#00f" stroke-width="2.2"/><text class="t" x="168" y="2999" style="font-size:14px">Tp</text>
<g class="t yl"><text x="110" y="2980">0.26</text><text x="110" y="3004.8">0.24</text><text x="110" y="3029.6">0.22</text><text x="110" y="3054.3">0.20</text><text x="110" y="3079.1">0.18</text><text x="110" y="3103.9">0.16</text><text x="110" y="3128.7">0.14</text><text x="110" y="3153.4">0.12</text><text x="110" y="3178.2">0.10</text><text x="110" y="3203">0.08</text></g>
<g class="t xl"><text x="229" y="3220">07/29 04:13:08</text><text x="397" y="3220">07/29 04:13:38</text><text x="565" y="3220">07/29 04:14:08</text><text x="733" y="3220">07/29 04:14:38</text><text x="901" y="3220">07/29 04:15:08</text><text x="1068" y="3220">07/29 04:15:38</text><text x="1236" y="3220">07/29 04:16:08</text><text x="1404" y="3220">07/29 04:16:38</text><text x="1572" y="3220">07/29 04:17:08</text></g>
<text class="t xl" transform="translate(50,3085) rotate(-90)">Tp(10<tspan style="font-size:10px" dy="-6">6</tspan><tspan dy="6">K)</tspan></text>
</svg>
</body></html>
